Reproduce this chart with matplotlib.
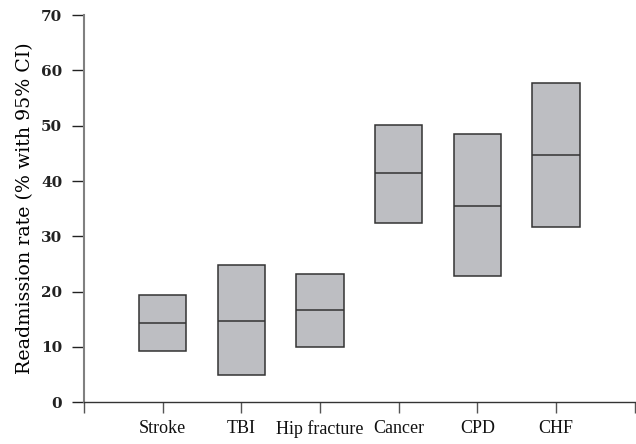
import matplotlib
matplotlib.use("Agg")
import matplotlib.pyplot as plt

# readmission rate per diagnosis: lower CI, point estimate, upper CI
categories = ["Stroke", "TBI", "Hip fracture", "Cancer", "CPD", "CHF"]
ci_low = [9.3, 4.9, 10.0, 32.5, 22.8, 31.6]
rate = [14.4, 14.7, 16.7, 41.4, 35.5, 44.7]
ci_high = [19.4, 24.8, 23.1, 50.2, 48.5, 57.8]

box_fill = "#bdbec2"
edge = "#333333"

fig = plt.figure(figsize=(6.36, 4.44), dpi=100)
ax = fig.add_axes([0.132, 0.094, 0.866, 0.872])

pos = list(range(1, len(categories) + 1))
heights = [h - l for l, h in zip(ci_low, ci_high)]
ax.bar(pos, heights, bottom=ci_low, width=0.6, color=box_fill,
       edgecolor=edge, linewidth=1.1, zorder=2)
ax.hlines(rate, [p - 0.3 for p in pos], [p + 0.3 for p in pos],
          color=edge, linewidth=1.1, zorder=3)

ax.set_xlim(0, 7)
ax.set_ylim(0, 70)
ax.set_yticks(range(0, 71, 10))
ax.set_yticklabels([str(v) for v in range(0, 71, 10)],
                   fontfamily="DejaVu Serif", fontweight="bold", fontsize=11)
ax.set_xticks(range(0, 8))
ax.set_xticklabels([""] + categories + [""], fontfamily="Liberation Serif",
                   fontsize=13)
ax.tick_params(axis="y", direction="out", length=8.6, width=1.0,
               colors="#222222", pad=7)
ax.tick_params(axis="x", direction="out", length=8, width=1.0,
               color="#555555", labelcolor="#111111", pad=5)

for side in ("top", "right"):
    ax.spines[side].set_visible(False)
ax.spines["left"].set_color("#808080")
ax.spines["left"].set_linewidth(1.5)
ax.spines["bottom"].set_color("#333333")
ax.spines["bottom"].set_linewidth(1.0)

ax.set_ylabel("Readmission rate (% with 95% CI)", fontfamily="DejaVu Serif",
              fontsize=13.7, labelpad=5)

fig.savefig("out.png", dpi=100)
